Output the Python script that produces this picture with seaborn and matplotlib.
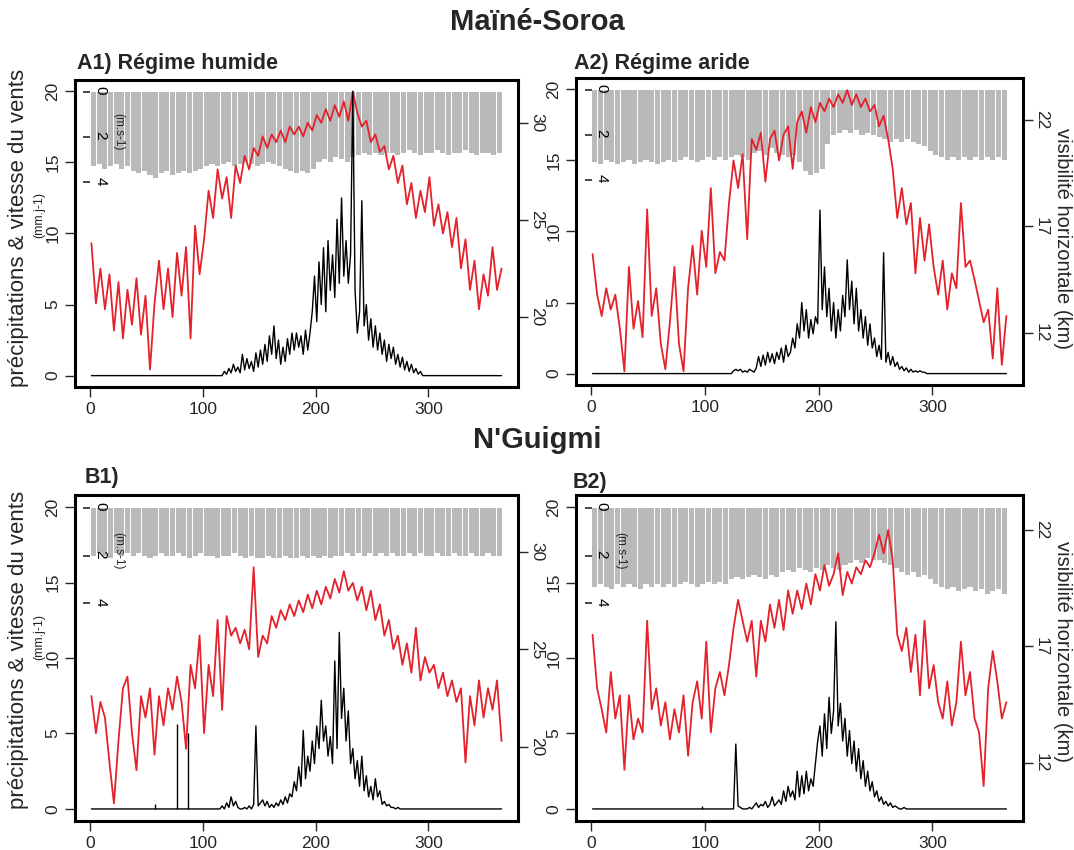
import matplotlib
matplotlib.use("Agg")
import matplotlib.pyplot as plt
import numpy as np
import seaborn as sns

sns.set_style("ticks")
plt.rcParams["font.family"] = ["Liberation Sans", "DejaVu Sans"]

# day positions of the values
vis_days = np.arange(1, 366, 4)      # visibility, every 4 days
rain_days = np.arange(111, 300, 2)   # rainy-season window, every 2 days
wind_days = np.arange(1, 366, 5)     # wind bars, 5-day blocks

# ---------------- Maïné-Soroa, A1) régime humide ----------------
a1_vis = [23.8, 20.7, 22.5, 20.4, 22.2, 19.3, 21.8, 18.9, 21.4, 19.6,
          22.0, 19.1, 21.1, 17.3, 20.7, 22.9, 20.4, 22.5, 20.0, 23.3,
          21.1, 23.6, 18.9, 24.7, 22.2, 24.0, 26.5, 25.1, 27.6, 26.1,
          27.2, 25.1, 27.8, 26.9, 28.3, 27.6, 28.7, 28.3, 29.3, 28.7,
          29.4, 29.0, 29.6, 29.0, 29.8, 29.4, 29.8, 29.3, 30.0, 29.6,
          30.4, 30.0, 30.7, 30.1, 30.9, 30.3, 31.1, 30.1, 31.6, 30.5,
          29.8, 30.1, 29.0, 29.4, 28.5, 28.8, 27.6, 28.3, 26.9, 27.8,
          25.8, 26.9, 25.1, 26.5, 25.4, 27.2, 24.7, 25.8, 24.3, 25.4,
          23.6, 25.1, 22.5, 24.0, 21.4, 22.9, 20.4, 22.2, 21.1, 23.6,
          21.4, 22.5]
a1_rain = [0, 0, 0, 0, 0.3, 0.1, 0.5, 0.2, 0.8, 0.3,
           0.6, 0.2, 1.5, 0.4, 1.2, 0.5, 1.0, 0.3, 1.6, 0.6,
           1.8, 0.8, 2.2, 1.0, 2.8, 1.5, 3.5, 1.2, 2.5, 0.8,
           2.0, 1.0, 2.6, 1.5, 3.0, 1.8, 3.0, 2.0, 2.8, 1.5,
           3.2, 1.8, 3.0, 4.5, 7.0, 3.8, 8.0, 5.0, 9.0, 4.5,
           9.5, 6.0, 8.5, 5.5, 11.0, 6.5, 12.5, 7.0, 9.5, 6.5,
           8.5, 20.0, 6.0, 3.0, 4.5, 12.3, 3.5, 5.0, 2.5, 4.0,
           2.0, 3.5, 1.8, 3.0, 1.5, 2.5, 1.0, 2.2, 1.2, 2.0,
           0.8, 1.5, 0.6, 1.3, 0.4, 1.0, 0.3, 0.8, 0.2, 0.5,
           0.1, 0.3, 0, 0, 0]
a1_wind = [3.3, 3.2, 3.4, 3.3, 3.2, 3.4, 3.3, 3.5, 3.6, 3.5,
           3.7, 3.8, 3.6, 3.5, 3.7, 3.6, 3.5, 3.6, 3.5, 3.4,
           3.3, 3.2, 3.3, 3.2, 3.1, 3.3, 3.2, 3.1, 3.2, 3.3,
           3.2, 3.1, 3.2, 3.3, 3.4, 3.5, 3.6, 3.5, 3.6, 3.4,
           3.1, 3.0, 3.1, 2.9, 3.0, 3.1, 2.9, 2.8, 2.7, 2.8,
           2.7, 2.8, 2.7, 2.7, 2.8, 2.7, 2.6, 2.7, 2.8, 2.7,
           2.7, 2.6, 2.7, 2.8, 2.7, 2.7, 2.6, 2.7, 2.8, 2.7,
           2.7, 2.8, 2.7]

# ---------------- Maïné-Soroa, A2) régime aride ----------------
a2_vis = [15.7, 13.8, 12.8, 14.1, 13.1, 13.8, 12.2, 10.2, 15.1, 12.2,
          13.5, 11.8, 17.8, 12.8, 14.1, 11.5, 10.3, 12.5, 15.1, 11.5,
          10.2, 14.1, 16.1, 13.8, 16.8, 15.1, 18.8, 14.8, 15.8, 15.4,
          18.1, 20.1, 18.8, 20.4, 16.4, 21.1, 20.6, 21.4, 19.1, 21.1,
          21.5, 20.1, 21.3, 21.7, 19.7, 21.9, 22.4, 21.4, 22.6, 21.9,
          22.8, 22.4, 23.0, 22.6, 23.2, 22.8, 23.4, 22.7, 23.2, 22.6,
          23.0, 22.4, 22.7, 21.7, 22.2, 21.1, 19.7, 17.4, 18.8, 17.1,
          18.1, 14.8, 17.4, 15.4, 17.1, 15.1, 13.8, 15.4, 13.1, 14.8,
          14.1, 18.1, 15.1, 15.4, 14.5, 13.5, 12.5, 13.1, 10.8, 14.1,
          10.5, 12.8]
a2_rain = [0, 0, 0, 0, 0, 0, 0, 0.2, 0.3, 0.2,
           0.3, 0.1, 0.2, 0.1, 0.3, 0.2, 0.1, 0.4, 1.2, 0.5,
           1.3, 0.6, 1.5, 0.8, 1.4, 0.7, 1.5, 1.0, 1.8, 0.8,
           2.0, 1.2, 1.5, 2.5, 1.8, 3.5, 2.5, 5.0, 3.0, 4.5,
           2.5, 3.8, 2.8, 4.0, 3.5, 11.5, 4.5, 7.5, 4.0, 6.0,
           3.0, 5.0, 2.5, 4.5, 3.0, 5.5, 4.0, 8.0, 4.5, 6.5,
           3.5, 6.0, 3.0, 4.5, 2.5, 4.0, 2.0, 3.5, 1.8, 2.5,
           1.2, 2.0, 1.0, 8.5, 0.8, 1.5, 0.6, 1.2, 0.5, 0.8,
           0.3, 0.5, 0.2, 0.4, 0.1, 0.3, 0.1, 0.2, 0.1, 0.2,
           0.1, 0.1, 0, 0, 0]
a2_wind = [3.2, 3.3, 3.1, 3.2, 3.3, 3.2, 3.1, 3.3, 3.2, 3.1,
           3.2, 3.3, 3.2, 3.1, 3.2, 3.1, 3.0, 3.1, 3.2, 3.1,
           3.0, 3.1, 3.0, 3.1, 3.0, 2.9, 3.0, 3.1, 2.8, 2.7,
           2.9, 2.6, 2.8, 2.9, 3.0, 2.9, 3.2, 3.6, 3.8, 3.7,
           3.5, 2.4, 2.0, 1.9, 1.8, 1.9, 1.8, 2.0, 1.9, 2.0,
           2.1, 2.2, 2.3, 2.2, 2.3, 2.2, 2.3, 2.4, 2.5, 2.7,
           2.9, 3.0, 3.1, 3.0, 3.1, 3.0, 3.1, 3.0, 3.1, 3.0,
           3.1, 3.0, 3.1]

# ---------------- N'Guigmi, B1) ----------------
b1_vis = [22.6, 20.7, 22.3, 21.5, 19.2, 17.1, 20.3, 23.0, 23.6, 20.7,
          18.8, 22.6, 21.5, 23.0, 19.6, 22.6, 21.1, 23.0, 21.9, 23.6,
          22.3, 19.9, 24.2, 23.0, 25.7, 20.7, 24.2, 22.6, 26.5, 21.9,
          26.7, 25.7, 26.1, 25.3, 26.0, 25.0, 29.2, 24.6, 25.7, 25.3,
          26.7, 26.1, 27.0, 26.5, 27.3, 26.7, 27.5, 26.9, 27.8, 27.1,
          28.0, 27.3, 28.2, 27.6, 28.6, 27.9, 29.0, 28.0, 28.4, 27.5,
          28.2, 27.0, 28.0, 26.5, 27.3, 25.7, 26.5, 25.0, 25.7, 24.2,
          25.3, 23.8, 26.1, 23.4, 24.6, 23.8, 24.2, 23.0, 23.8, 22.6,
          23.4, 22.3, 23.0, 19.2, 22.6, 21.1, 23.4, 21.5, 23.0, 21.9,
          23.4, 20.3]
b1_rain = [0, 0, 0, 0.2, 0, 0.4, 0.1, 0.8, 0.2, 0.5,
           0.1, 0, 0, 0.1, 0, 0.2, 0, 0.3, 5.5, 0.2,
           0.4, 0.6, 0.2, 0.5, 0.1, 0.3, 0.1, 0.4, 0.2, 0.6,
           0.3, 0.8, 0.4, 1.0, 0.8, 1.8, 1.2, 2.8, 1.5, 5.2,
           2.0, 3.5, 2.5, 4.5, 3.0, 5.5, 4.0, 7.2, 4.5, 5.5,
           3.5, 4.8, 3.0, 9.8, 4.0, 11.7, 6.0, 8.0, 4.5, 6.5,
           3.0, 4.0, 2.0, 3.2, 1.5, 3.5, 1.2, 2.2, 0.8, 1.5,
           0.6, 2.0, 0.8, 1.2, 0.3, 0.5, 0.2, 0.3, 0.1, 0.1,
           0, 0.1, 0, 0, 0, 0, 0, 0, 0, 0,
           0, 0, 0, 0, 0]
b1_spike_days = [57, 77, 87]
b1_spike_vals = [0.3, 5.6, 5.0]
b1_wind = [2.0, 1.9, 2.0, 2.1, 1.9, 2.0, 1.9, 2.0, 1.9, 2.0,
           2.1, 2.0, 1.9, 2.0, 2.0, 1.9, 2.0, 2.1, 2.0, 1.9,
           2.0, 2.0, 2.1, 2.0, 2.0, 1.9, 2.0, 2.1, 2.0, 2.1,
           2.1, 2.0, 2.1, 2.1, 2.0, 2.1, 2.1, 2.0, 2.1, 2.0,
           2.1, 2.0, 2.1, 2.0, 2.0, 1.9, 2.0, 1.9, 2.0, 1.9,
           2.0, 1.9, 2.0, 1.9, 2.0, 2.0, 1.9, 2.0, 1.9, 2.0,
           2.0, 1.9, 2.0, 2.0, 1.9, 2.0, 2.0, 1.9, 2.0, 2.0,
           1.9, 2.0, 2.0]

# ---------------- N'Guigmi, B2) ----------------
b2_vis = [17.5, 15.2, 14.3, 13.3, 15.9, 13.9, 14.9, 11.7, 14.9, 13.0,
          13.9, 13.3, 18.1, 14.3, 15.2, 13.6, 14.6, 13.0, 14.3, 13.3,
          14.9, 12.3, 14.6, 15.5, 13.9, 17.2, 13.3, 15.2, 15.9, 14.9,
          16.2, 17.8, 19.0, 18.1, 17.2, 18.1, 15.7, 18.1, 17.2, 18.8,
          17.8, 19.0, 17.7, 19.4, 18.4, 19.4, 18.6, 19.7, 18.8, 20.1,
          19.4, 20.5, 19.6, 20.1, 21.0, 19.2, 20.2, 19.7, 20.4, 20.1,
          20.7, 20.4, 21.0, 21.8, 21.0, 22.0, 20.7, 17.5, 16.8, 17.8,
          15.9, 17.5, 14.9, 18.1, 15.2, 16.2, 14.6, 13.9, 15.5, 13.6,
          14.6, 17.2, 14.9, 15.9, 13.9, 13.3, 11.0, 15.2, 16.8, 15.5,
          13.9, 14.6]
b2_rain = [0, 0, 0, 0, 0, 0, 0, 0, 4.3, 0.2,
           0.1, 0, 0, 0, 0.1, 0, 0.2, 0.4, 0.1, 0.3,
           0.2, 0.5, 0.1, 0.3, 0.8, 0.2, 0.4, 0.6, 0.3, 1.2,
           0.5, 1.5, 0.8, 1.2, 0.6, 2.5, 0.8, 2.2, 1.0, 2.5,
           1.2, 2.0, 1.5, 3.0, 4.5, 5.5, 3.5, 6.3, 4.0, 7.4,
           5.0, 6.5, 12.4, 5.5, 7.0, 4.5, 6.0, 3.5, 5.2, 3.0,
           4.5, 2.5, 4.0, 2.0, 3.2, 1.5, 2.5, 1.2, 1.8, 0.8,
           1.2, 0.5, 0.8, 0.3, 0.5, 0.2, 0.4, 0.1, 0.2, 0.1,
           0, 0, 0.1, 0, 0, 0, 0, 0, 0, 0,
           0, 0, 0, 0, 0]
b2_spike_days = [97]
b2_spike_vals = [0.2]
b2_wind = [3.3, 3.2, 3.3, 3.4, 3.2, 3.3, 3.2, 3.3, 3.4, 3.2,
           3.3, 3.2, 3.3, 3.2, 3.3, 3.2, 3.1, 3.2, 3.3, 3.2,
           3.1, 3.2, 3.1, 3.2, 3.0, 2.9, 3.0, 2.9, 2.8, 2.9,
           3.0, 2.8, 2.9, 2.7, 2.6, 2.7, 2.5, 2.6, 2.7, 2.5,
           2.6, 2.4, 2.5, 2.6, 2.4, 2.3, 2.2, 2.3, 2.1, 2.2,
           2.2, 2.3, 2.4, 2.5, 2.7, 2.8, 2.7, 2.9, 2.8, 3.0,
           3.2, 3.3, 3.4, 3.3, 3.5, 3.4, 3.3, 3.5, 3.4, 3.6,
           3.5, 3.4, 3.6]

RED = "#e3222b"
GREY = "#b9b9b9"
TICK_FS = 12.5

fig = plt.figure(figsize=(10.74, 8.5), dpi=100)
fig.patch.set_facecolor("white")


def draw_panel(rect, vis, rain, wind, vis_lim, vis_ticks,
               spike_days=None, spike_vals=None, unit_label=True):
    ax = fig.add_axes(rect)
    axw = ax.twinx()
    axv = ax.twinx()
    # bars underneath, then visibility, then rainfall
    axw.set_zorder(1)
    axv.set_zorder(2)
    ax.set_zorder(3)
    for a in (ax, axv, axw):
        a.patch.set_visible(False)

    # wind speed, hanging from the top (inverted axis)
    axw.set_axisbelow(False)
    axw.bar(wind_days + 2, wind, width=4.5, color=GREY, linewidth=0)
    axw.set_ylim(13.1, -0.53)
    axw.yaxis.tick_right()
    axw.spines["right"].set_position(("axes", 0.035))
    for s in axw.spines.values():
        s.set_visible(False)
    axw.set_yticks([0, 2, 4])
    axw.set_yticklabels(["0", "2", "4"])
    axw.tick_params(axis="y", direction="in", length=5, width=1.2, pad=2,
                    labelsize=11, labelrotation=-90, labelcolor="black")
    if unit_label:
        axw.text(0.098, 0.83, "(m.s-1)", transform=axw.transAxes,
                 rotation=-90, fontsize=8.5, ha="center", va="center",
                 zorder=5)

    # horizontal visibility
    sns.lineplot(x=vis_days, y=vis, ax=axv, color=RED, lw=1.3,
                 estimator=None, sort=False)
    axv.set_ylim(*vis_lim)
    axv.set_yticks(vis_ticks)
    axv.set_ylabel("")
    for s in axv.spines.values():
        s.set_visible(False)
    axv.tick_params(axis="y", direction="out", length=7, width=1,
                    labelsize=TICK_FS, labelrotation=-90, pad=1)
    for lab in axv.get_yticklabels():
        lab.set_va("center")

    # daily rainfall
    rx = np.r_[1, rain_days, 365]
    ry = np.r_[0, rain, 0]
    sns.lineplot(x=rx, y=ry, ax=ax, color="black", lw=1.0,
                 estimator=None, sort=False)
    if spike_days is not None:
        ax.vlines(spike_days, 0, spike_vals, color="black", lw=1.0)
    ax.set_xlim(-13.6, 379.6)
    ax.set_ylim(-0.8, 20.8)
    ax.set_xticks([0, 100, 200, 300])
    ax.set_yticks([0, 5, 10, 15, 20])
    ax.set_xlabel("")
    ax.set_ylabel("")
    ax.tick_params(axis="both", direction="out", length=7, width=1,
                   labelsize=TICK_FS)
    ax.tick_params(axis="y", labelrotation=90)
    for lab in ax.get_yticklabels():
        lab.set_va("center")
    for s in ax.spines.values():
        s.set_visible(True)
        s.set_linewidth(2.2)
        s.set_color("black")
    return ax


draw_panel([0.0698, 0.5447, 0.4125, 0.3612], a1_vis, a1_rain, a1_wind,
           (16.4, 32.2), [20, 25, 30])
draw_panel([0.5363, 0.5471, 0.4162, 0.3612], a2_vis, a2_rain, a2_wind,
           (9.56, 23.97), [12, 17, 22], unit_label=False)
draw_panel([0.0698, 0.0341, 0.4125, 0.3835], b1_vis, b1_rain, b1_wind,
           (16.2, 32.9), [20, 25, 30], b1_spike_days, b1_spike_vals)
draw_panel([0.5363, 0.0341, 0.4162, 0.3835], b2_vis, b2_rain, b2_wind,
           (9.5, 23.5), [12, 17, 22], b2_spike_days, b2_spike_vals)

# titles
fig.text(0.5, 0.974, "Maïné-Soroa", ha="center", va="center",
         fontsize=21, fontweight="bold")
fig.text(0.5, 0.482, "N'Guigmi", ha="center", va="center",
         fontsize=21, fontweight="bold")
fig.text(0.072, 0.925, "A1) Régime humide", ha="left", va="center",
         fontsize=15.5, fontweight="bold")
fig.text(0.534, 0.925, "A2) Régime aride", ha="left", va="center",
         fontsize=15.5, fontweight="bold")
fig.text(0.079, 0.438, "B1)", ha="left", va="center",
         fontsize=15.5, fontweight="bold")
fig.text(0.533, 0.432, "B2)", ha="left", va="center",
         fontsize=15.5, fontweight="bold")

# axis titles
for yc, yu in [(0.732, 0.747), (0.235, 0.25)]:
    fig.text(0.017, yc, "précipitations & vitesse du vents", rotation=90,
             ha="center", va="center", fontsize=16)
    fig.text(0.037, yu, "(mm.j-1)", rotation=90, ha="center", va="center",
             fontsize=9)
for yc in (0.72, 0.234):
    fig.text(0.989, yc, "visibilité horizontale (km)", rotation=-90,
             ha="center", va="center", fontsize=14.5)

fig.savefig("out.png", dpi=100, facecolor="white")
